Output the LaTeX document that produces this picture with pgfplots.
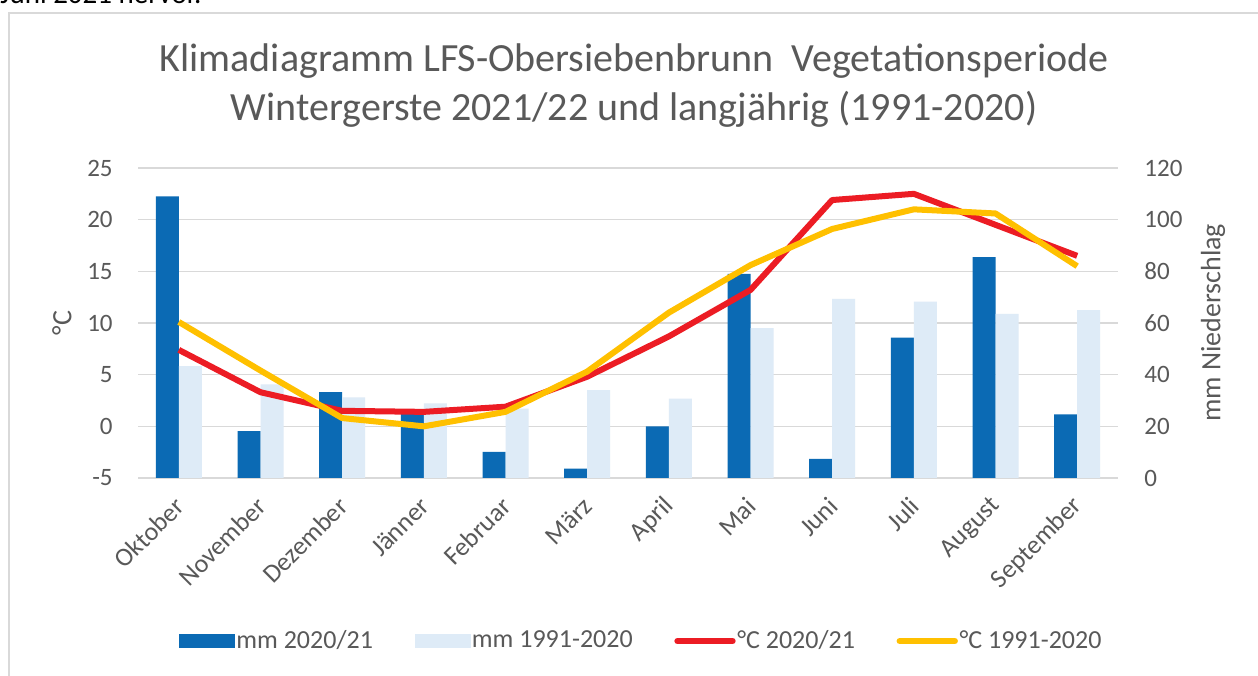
\documentclass[border=0pt]{standalone}
\usepackage{fontspec}
\setmainfont{Carlito}
\usepackage{pgfplots}
\pgfplotsset{compat=1.18}
\definecolor{dblue}{HTML}{0B6AB4}
\definecolor{lblue}{HTML}{DEEBF7}
\definecolor{cred}{HTML}{EC1C24}
\definecolor{cyel}{HTML}{FFC000}
\definecolor{gridc}{HTML}{D9D9D9}
\definecolor{txt}{HTML}{595959}
\begin{document}
\begin{tikzpicture}
\path[use as bounding box] (0,0) rectangle (629pt,337.5pt);
\fill[white] (0,0) rectangle (629pt,337.5pt);
\draw[gridc, line width=1pt] (4.5pt,-1pt) -- (4.5pt,331pt) -- (632pt,331pt);
\node[anchor=base west, font=\fontsize{14.5}{16}\selectfont, inner sep=0pt] at (0pt,335.5pt) {Juni 2021 hervor.};
\node[anchor=base, font=\fontsize{20}{24}\selectfont, text=txt, inner sep=0pt] at (317pt,301.5pt) {Klimadiagramm LFS-Obersiebenbrunn\ \ Vegetationsperiode};
\node[anchor=base, font=\fontsize{20}{24}\selectfont, text=txt, inner sep=0pt] at (317pt,277pt) {Wintergerste 2021/22 und langjährig (1991-2020)};
\begin{axis}[
  at={(69pt,98.5pt)}, anchor=south west, scale only axis,
  width=490pt, height=155pt,
  xmin=-0.5, xmax=11.5, ymin=0, ymax=120,
  xtick=\empty,
  ytick={0,20,...,120},
  yticklabel pos=right,
  axis line style={draw=none},
  major tick length=0pt,
  ymajorgrids, grid style={gridc, line width=0.8pt},
  /pgf/number format/assume math mode=true,
  tick label style={font=\fontsize{12.5}{14}\selectfont, text=txt},
  yticklabel style={anchor=west, inner sep=0pt, xshift=13pt},
  ylabel={mm Niederschlag},
  ylabel style={at={(rel axis cs:1,0.5)}, yshift=-47.5pt, anchor=center, font=\fontsize{14}{16}\selectfont, text=txt},
]
\addplot[ybar, bar width=11.5pt, bar shift=-5.75pt, fill=dblue, draw=none] coordinates {
(0,109.0) (1,18.1) (2,33.2) (3,25.0) (4,10.1) (5,3.6) (6,20.0) (7,79.0) (8,7.4) (9,54.3) (10,85.5) (11,24.6)};
\addplot[ybar, bar width=11.5pt, bar shift=5.75pt, fill=lblue, draw=none] coordinates {
(0,43.3) (1,36.2) (2,31.2) (3,28.9) (4,26.9) (5,34.0) (6,30.7) (7,58.0) (8,69.3) (9,68.3) (10,63.5) (11,65.0)};
\end{axis}
\begin{axis}[
  at={(69pt,98.5pt)}, anchor=south west, scale only axis,
  width=490pt, height=155pt,
  xmin=-0.5, xmax=11.5, ymin=-5, ymax=25,
  xtick={0,...,11},
  xticklabels={Oktober,November,Dezember,Jänner,Februar,März,April,Mai,Juni,Juli,August,September},
  ytick={-5,0,...,25},
  axis line style={draw=none},
  major tick length=0pt,
  /pgf/number format/assume math mode=true,
  tick label style={font=\fontsize{12.5}{14}\selectfont, text=txt},
  yticklabel style={anchor=east, inner sep=0pt, xshift=-12.5pt},
  xticklabel style={font=\fontsize{13}{15}\selectfont, rotate=45, anchor=east, inner sep=0pt, xshift=-8pt, yshift=-8.9pt},
  ylabel={°C},
  ylabel style={at={(rel axis cs:0,0.5)}, yshift=38pt, anchor=center, font=\fontsize{14}{16}\selectfont, text=txt},
  legend style={at={(0.5133,-0.526)}, anchor=center, draw=none, fill=none,
    legend columns=4, font=\fontsize{13}{15}\selectfont, text=txt,
    /tikz/every even column/.append style={column sep=20pt},
    nodes={inner xsep=0.8pt, inner ysep=1pt}},
]
\addlegendimage{legend image code/.code={\fill[dblue] (0pt,-3.3pt) rectangle (27.5pt,3.3pt);}}
\addlegendentry{mm 2020/21}
\addlegendimage{legend image code/.code={\fill[lblue] (0pt,-3.3pt) rectangle (27.5pt,3.3pt);}}
\addlegendentry{mm 1991-2020}
\addplot[cred, line width=3pt, line join=round, mark=none,
  legend image code/.code={\draw[cred, line width=3.4pt, line cap=round] (1.7pt,0pt) -- (29pt,0pt);}] coordinates {
(0,7.4) (1,3.3) (2,1.5) (3,1.4) (4,1.9) (5,4.8) (6,8.7) (7,13.2) (8,21.9) (9,22.5) (10,19.5) (11,16.5)};
\addlegendentry{°C 2020/21}
\addplot[cyel, line width=3pt, line join=round, mark=none,
  legend image code/.code={\draw[cyel, line width=3.4pt, line cap=round] (1.7pt,0pt) -- (29pt,0pt);}] coordinates {
(0,10.1) (1,5.4) (2,0.8) (3,0.0) (4,1.4) (5,5.3) (6,11.0) (7,15.6) (8,19.1) (9,21.0) (10,20.6) (11,15.5)};
\addlegendentry{°C 1991-2020}
\end{axis}
\end{tikzpicture}
\end{document}
